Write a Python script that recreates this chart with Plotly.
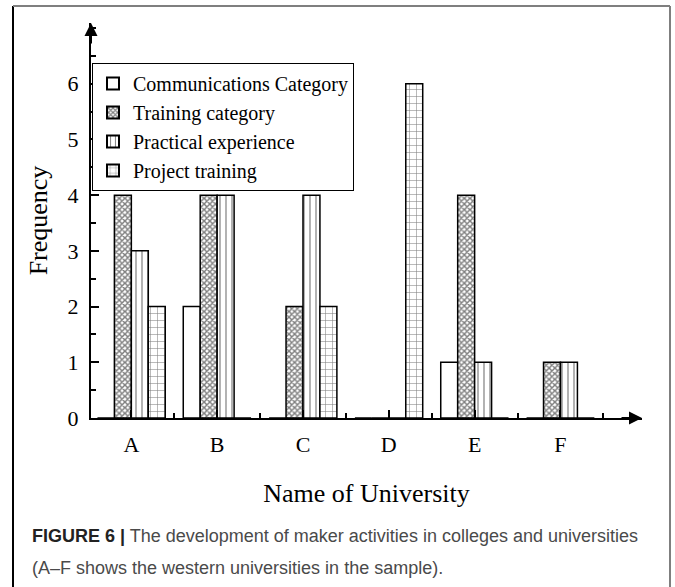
import plotly.graph_objects as go

categories = ["A", "B", "C", "D", "E", "F"]
series_names = ["Communications Category", "Training category",
                "Practical experience", "Project training"]
communications = [0, 2, 0, 0, 1, 0]
training = [4, 4, 2, 0, 4, 1]
practical = [3, 4, 4, 0, 1, 1]
project = [2, 0, 2, 6, 0, 0]
y_ticks = [0, 1, 2, 3, 4, 5, 6]

series_values = [communications, training, practical, project]
patterns = [
    dict(shape=""),
    dict(shape="x", size=4, solidity=0.6, fgcolor="black", bgcolor="white"),
    dict(shape="|", size=6, solidity=0.2, fgcolor="black", bgcolor="white"),
    dict(shape="+", size=7, solidity=0.15, fgcolor="black", bgcolor="white"),
]

xpos = list(range(len(categories)))
serif = "Liberation Serif, Times New Roman, serif"

fig = go.Figure()
for name, vals, pat in zip(series_names, series_values, patterns):
    fig.add_trace(go.Bar(
        x=xpos, y=vals, name=name,
        marker=dict(color="white", line=dict(color="black", width=1.5), pattern=pat),
    ))

W, H = 675, 587
L, R, T, B = 91, 33, 23, 169
pw, ph = W - L - R, H - T - B

def px(x):
    return (x - L) / pw

def py(y):
    return (H - B - y) / ph

fig.update_layout(
    width=W, height=H,
    margin=dict(l=L, r=R, t=T, b=B),
    paper_bgcolor="white", plot_bgcolor="white",
    barmode="group", bargap=0.21, bargroupgap=0,
    font=dict(family=serif, color="black"),
    showlegend=True,
    legend=dict(
        x=px(92), y=py(63), xanchor="left", yanchor="top",
        bordercolor="black", borderwidth=1, bgcolor="white",
        font=dict(family=serif, size=20, color="black"),
        tracegroupgap=0, itemsizing="constant",
    ),
    xaxis=dict(
        range=[-0.47, 5.95], tickvals=xpos, ticktext=categories,
        showline=True, linecolor="black", linewidth=2,
        ticks="inside", ticklen=8, tickwidth=1.5, tickcolor="black",
        minor=dict(tickmode="linear", tick0=0.5, dtick=1, ticks="inside",
                   ticklen=5, tickwidth=1.5, tickcolor="black"),
        showgrid=False, zeroline=False,
        tickfont=dict(family=serif, size=22), ticklabelstandoff=6,
        title=dict(text="Name of University", font=dict(family=serif, size=26), standoff=27),
    ),
    yaxis=dict(
        range=[0, 7.09], tickvals=y_ticks,
        showline=True, linecolor="black", linewidth=2,
        ticks="inside", ticklen=8, tickwidth=1.5, tickcolor="black",
        minor=dict(tickmode="linear", tick0=0, dtick=0.5, ticks="inside",
                   ticklen=5, tickwidth=1.5, tickcolor="black"),
        showgrid=False, zeroline=False,
        tickfont=dict(family=serif, size=22), ticklabelstandoff=6,
        title=dict(text="Frequency", font=dict(family=serif, size=26), standoff=12),
    ),
)

# axis arrows
fig.add_annotation(x=0, y=1, xref="paper", yref="paper", ax=0, ay=22, text="",
                   showarrow=True, arrowhead=2, arrowsize=1.3, arrowwidth=2,
                   arrowcolor="black", standoff=0)
fig.add_annotation(x=1, y=0, xref="paper", yref="paper", ax=-22, ay=0, text="",
                   showarrow=True, arrowhead=2, arrowsize=1.3, arrowwidth=2,
                   arrowcolor="black", standoff=0)

# outer frame
fig.add_shape(type="line", xref="paper", yref="paper", x0=px(13), x1=px(13),
              y0=py(6), y1=py(600), line=dict(color="black", width=2))
fig.add_shape(type="line", xref="paper", yref="paper", x0=px(13), x1=px(670),
              y0=py(6), y1=py(6), line=dict(color="#7f7f7f", width=2))
fig.add_shape(type="line", xref="paper", yref="paper", x0=px(670), x1=px(670),
              y0=py(6), y1=py(600), line=dict(color="#7f7f7f", width=2))

sans = "Liberation Sans, Arial, Helvetica, sans-serif"
fig.add_annotation(
    x=px(30), y=py(536), xref="paper", yref="paper", xanchor="left", yanchor="middle",
    showarrow=False, align="left",
    text="<b>FIGURE 6 |</b> <span style='color:#4a4a4a'>The development of maker activities in colleges and universities</span>",
    font=dict(family=sans, size=18, color="#222222"),
)
fig.add_annotation(
    x=px(30), y=py(568), xref="paper", yref="paper", xanchor="left", yanchor="middle",
    showarrow=False, align="left",
    text="<span style='color:#4a4a4a'>(A–F shows the western universities in the sample).</span>",
    font=dict(family=sans, size=18, color="#222222"),
)

fig.write_html("out.html", config={"displayModeBar": False},
               post_script="document.body.style.margin='0';document.body.style.overflow='hidden';")
